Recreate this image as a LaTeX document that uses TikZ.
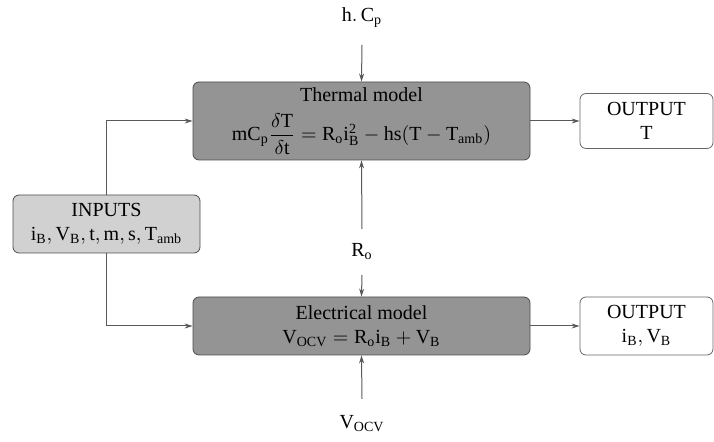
\documentclass[tikz,border=0pt]{standalone}
\usepackage{amsmath}
\usepackage{fontspec}
\setmainfont{Liberation Serif}
\usepackage{tikz}
\usetikzlibrary{arrows.meta}
\definecolor{modelgray}{gray}{0.58}
\definecolor{inputgray}{gray}{0.82}
\definecolor{linegray}{gray}{0.35}

\begin{document}
\begin{tikzpicture}[x=0.5pt,y=-0.5pt,
  model/.style={draw=black!70,fill=modelgray,rounded corners=3pt,align=center,inner sep=0pt},
  iobox/.style={draw=black!60,rounded corners=3pt,align=center,inner sep=0pt},
  feed/.style={draw=linegray,line width=0.5pt,-{Stealth[length=4pt,width=2.5pt]}}]
\useasboundingbox (0,0) rectangle (714,442);
% blocks
\node[model,minimum width=168.5pt,minimum height=39pt] (thermal) at (361.5,121)
  {Thermal model\\[5pt]$\mathrm{mC_p}\dfrac{\delta\mathrm{T}}{\delta\mathrm{t}}=\mathrm{R_oi_B^2-hs(T-T_{amb})}$};
\node[model,minimum width=168.5pt,minimum height=29pt] (elec) at (361.5,326)
  {Electrical model\\$\mathrm{V_{OCV}=R_oi_B+V_B}$};
\node[model,fill=inputgray,minimum width=93.5pt,minimum height=29pt] (inputs) at (106.5,224)
  {INPUTS\\$\mathrm{i_B,V_B,t,m,s,T_{amb}}$};
\node[iobox,minimum width=66.5pt,minimum height=27.5pt] (outT) at (646.5,121)
  {OUTPUT\\T};
\node[iobox,minimum width=66.5pt,minimum height=29pt] (outI) at (646.5,326)
  {OUTPUT\\$\mathrm{i_B,V_B}$};
% parameters
\node[] (hcp) at (362,18) {$\mathrm{h.\,C_p}$};
\node[] (ro) at (362,252) {$\mathrm{R_o}$};
\node[] (vocv) at (362,424) {$\mathrm{V_{OCV}}$};
% connections
\draw[feed] (hcp.south) ++(0,10) -- (thermal.north);
\draw[feed] (ro.north) ++(0,-8) -- (thermal.south);
\draw[feed] (ro.south) ++(0,8) -- (elec.north);
\draw[feed] (vocv.north) ++(0,-10) -- (elec.south);
\draw[feed] (inputs.north) |- (thermal.west);
\draw[feed] (inputs.south) |- (elec.west);
\draw[feed] (thermal.east) -- (outT.west);
\draw[feed] (elec.east) -- (outI.west);
\end{tikzpicture}
\end{document}
